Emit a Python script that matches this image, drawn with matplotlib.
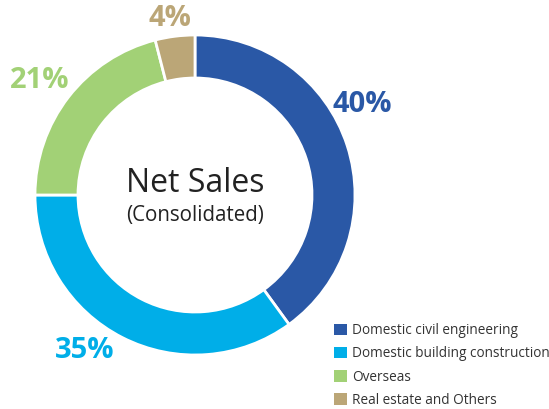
import matplotlib.pyplot as plt
from matplotlib.patches import Patch

# Net sales breakdown (consolidated)
segments = ['Domestic civil engineering', 'Domestic building construction',
            'Overseas', 'Real estate and Others']
shares = [40, 35, 21, 4]
colors = ['#2a58a6', '#00aee8', '#a2d176', '#bba677']
label_pos = [(362, 304), (85, 59), (40, 329), (170, 391)]

plt.rcParams['font.family'] = ['Open Sans', 'DejaVu Sans']

fig = plt.figure(figsize=(5.49, 4.09), dpi=100)
ax = fig.add_axes([0, 0, 1, 1])

ax.pie(shares, colors=colors, startangle=90, counterclock=False,
       center=(195, 214), radius=160, frame=True,
       wedgeprops=dict(width=43, edgecolor='white', linewidth=2))
ax.set_xlim(0, 549)
ax.set_ylim(0, 409)
ax.axis('off')

for s, c, (x, y) in zip(shares, colors, label_pos):
    ax.text(x, y, f'{s}%', color=c, fontsize=21, fontweight='bold',
            ha='center', va='center')

ax.text(195, 226, 'Net Sales', fontsize=23, ha='center', va='center', color='#222222')
ax.text(195, 193, '(Consolidated)', fontsize=14.8, ha='center', va='center', color='#222222')

handles = [Patch(facecolor=c, edgecolor='none') for c in colors]
fig.legend(handles, segments, loc='lower left', bbox_to_anchor=(322 / 549, -11 / 409),
           frameon=False, fontsize=9.8, handlelength=0.9, handleheight=0.9,
           handletextpad=0.4, labelspacing=0.6, labelcolor='#333333')

fig.savefig('out.png', dpi=100)
